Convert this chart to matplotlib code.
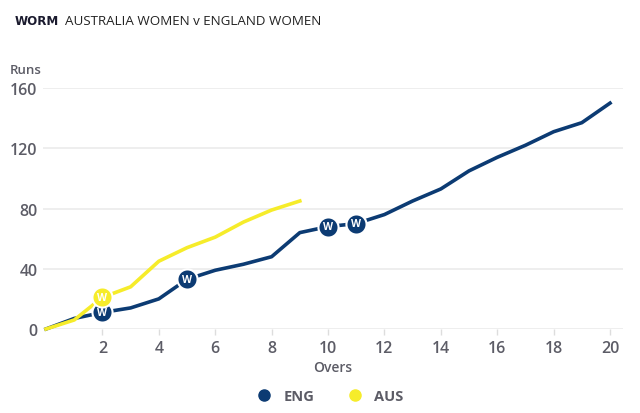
import matplotlib
matplotlib.use("Agg")
import matplotlib.pyplot as plt
from matplotlib.lines import Line2D
import numpy as np

plt.rcParams["font.family"] = ["Open Sans", "DejaVu Sans"]

overs_eng = list(range(0, 21))
runs_eng = [0, 7, 11, 14, 20, 33, 39, 43, 48, 64, 68, 70, 76, 85, 93, 105, 114, 122, 131, 137, 150]
overs_aus = list(range(0, 10))
runs_aus = [0, 6, 21, 28, 45, 54, 61, 71, 79, 85]

wickets_eng = [2, 5, 10, 11]
wickets_aus = [2]

eng_col = "#0c3b73"
aus_col = "#f6ec2a"
grey = "#5c5c66"

fig = plt.figure(figsize=(6.4, 4.14), dpi=100)
ax = fig.add_axes([0.0675, 0.2029, 0.9055, 0.582])

ax.plot(overs_eng, runs_eng, color=eng_col, lw=2.6, zorder=3, clip_on=False,
        solid_joinstyle="round")
ax.plot(overs_aus, runs_aus, color=aus_col, lw=2.6, zorder=3.5, clip_on=False,
        solid_joinstyle="round")

for w in wickets_eng:
    ax.plot(w, runs_eng[w], "o", ms=14.5, mfc=eng_col, mec="white", mew=1.5, zorder=5, clip_on=False)
    ax.text(w, runs_eng[w], "W", color="white", fontsize=7.5, fontweight="bold",
            ha="center", va="center", zorder=6)
for w in wickets_aus:
    ax.plot(w, runs_aus[w], "o", ms=14.5, mfc=aus_col, mec="white", mew=1.5, zorder=5, clip_on=False)
    ax.text(w, runs_aus[w], "W", color="white", fontsize=7.5, fontweight="bold",
            ha="center", va="center", zorder=6)

ax.set_xlim(-0.1, 20.45)
ax.set_ylim(0, 160)
ax.set_xticks(range(2, 21, 2))
ax.set_yticks([0, 40, 80, 120, 160])
ax.grid(axis="y", color="#ebebeb", lw=1.2)
ax.set_axisbelow(True)
for s in ax.spines.values():
    s.set_visible(False)
ax.tick_params(length=0, labelsize=11.5, labelcolor=grey, pad=4)
ax.tick_params(axis="x", length=4, color="#dddddd", width=1, pad=4)
for lbl in ax.get_xticklabels() + ax.get_yticklabels():
    lbl.set_fontweight("semibold")

ax.set_xlabel("Overs", fontsize=10, color=grey, fontweight="semibold", labelpad=3)
fig.text(0.016, 0.83, "Runs", fontsize=9.5, color=grey, fontweight="semibold", va="center")

fig.text(0.023, 0.948, "WORM", fontsize=8.6, color="#1a1a2e", fontweight="bold", va="center",
         family="DejaVu Sans")
fig.text(0.101, 0.948, "AUSTRALIA WOMEN v ENGLAND WOMEN", fontsize=9.6, color="#222222", va="center")

handles = [
    Line2D([], [], ls="none", marker="o", ms=8, mfc=eng_col, mec=eng_col, label="ENG"),
    Line2D([], [], ls="none", marker="o", ms=8, mfc=aus_col, mec=aus_col, label="AUS"),
]
leg = fig.legend(handles=handles, loc="center", bbox_to_anchor=(0.51, 0.042), ncol=2,
                 frameon=False, handletextpad=0.3, columnspacing=1.8, fontsize=10.5)
for t in leg.get_texts():
    t.set_color(grey)
    t.set_fontweight("bold")

fig.savefig("out.png", dpi=100)
